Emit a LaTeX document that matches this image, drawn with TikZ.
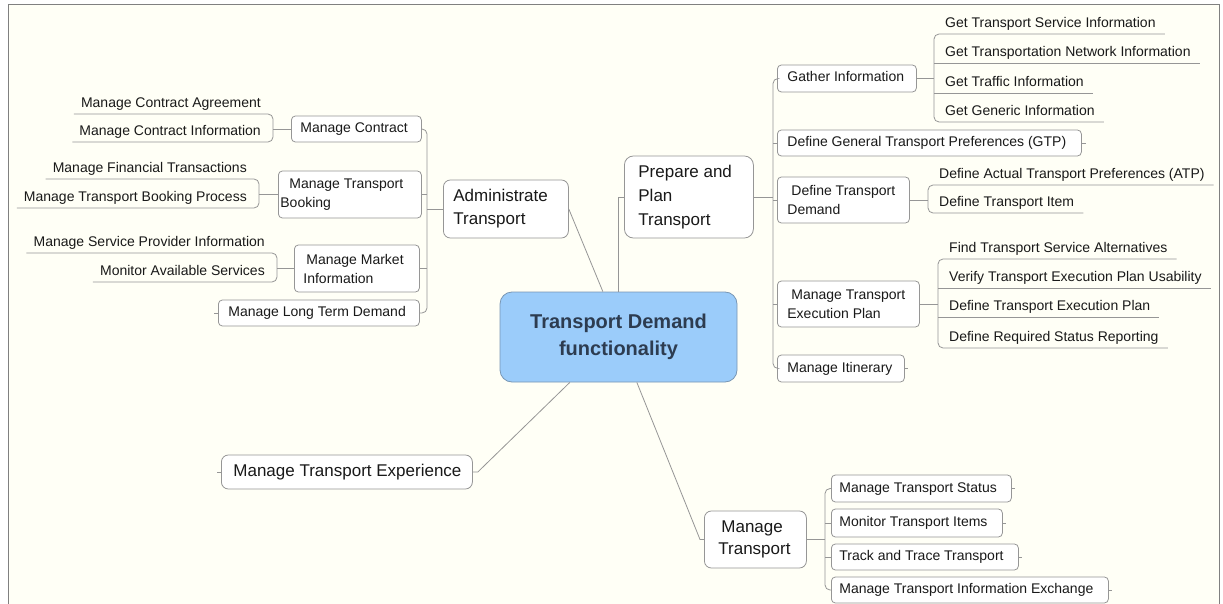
\documentclass[tikz,border=0pt]{standalone}
\usepackage{fontspec}
\setmainfont{Liberation Sans}
\usetikzlibrary{calc}
\definecolor{bg}{RGB}{255,255,246}
\definecolor{frm}{RGB}{128,128,128}
\definecolor{bdr}{RGB}{150,150,150}
\definecolor{lnc}{RGB}{150,150,150}
\definecolor{txt}{RGB}{25,25,25}
\definecolor{cfill}{RGB}{155,204,250}
\definecolor{cbdr}{RGB}{120,150,180}
\definecolor{ctxt}{RGB}{45,60,80}
\newcommand{\fsz}[2]{\fontsize{#1}{#2}\selectfont}
\begin{document}
\begin{tikzpicture}[x=1pt,y=-1pt,
  ln/.style={draw=lnc, line width=0.8pt},
  br/.style={ln, rounded corners=5pt},
  bx/.style={draw=bdr, line width=0.8pt, fill=white, rounded corners=4pt, inner ysep=0pt, anchor=west, text=txt, font=\fsz{14}{19}},
  big/.style={bx, rounded corners=7pt, font=\fsz{17}{23}},
  one/.style={text height=10pt, text depth=3pt},
  lf/.style={inner ysep=0pt, minimum height=19pt, text height=10pt, text depth=3pt, text=txt, font=\fsz{14}{19}},
  lfR/.style={lf, inner xsep=9pt, anchor=south west, execute at begin node={\hspace*{2pt}}},
  lfL/.style={lf, inner xsep=7pt, anchor=south east, execute at end node={\hspace*{5pt}}}
]
\useasboundingbox (0,0) rectangle (1223,604);
\fill[white] (0,0) rectangle (1223,604);
\fill[bg] (8,5) rectangle (1219,604);
\draw[frm, line width=1pt] (8,604) -- (8,5) -- (1219,5) -- (1219,604);

% centre
\node[draw=cbdr, line width=0.8pt, fill=cfill, rounded corners=12pt, minimum width=237pt, minimum height=90pt, align=center, font=\bfseries\fsz{20}{27}, text=ctxt] (ctr) at (618.5,337) {Transport Demand\\functionality};

% first level
\node[big, inner xsep=10pt, minimum height=58pt, align=left] (adm) at (443,209) {\makebox[105pt][l]{Administrate}\\Transport};
\node[big, rounded corners=9pt, inner xsep=14pt, minimum height=82pt, font=\fsz{17}{24}, align=left] (prep) at (624,197) {\makebox[101pt][l]{Prepare and}\\Plan\\Transport};
\node[big, one, text height=12pt, text depth=4pt, inner xsep=12pt, minimum height=34pt] (mte) at (221,472) {\makebox[227pt][l]{Manage Transport Experience}};
\node[big, inner xsep=14pt, minimum height=57pt, font=\fsz{17}{22}, align=left] (mt) at (704,539.5) {\makebox[74pt][l]{\hspace*{3pt}Manage}\\Transport};

% administrate children
\node[bx, one, inner xsep=9pt, minimum height=26pt] (mc) at (291,129) {\makebox[112pt][l]{Manage Contract}};
\node[bx, inner xsep=2pt, minimum height=47pt, align=left] (mtb) at (278,194.5) {\makebox[139pt][l]{\hspace*{9pt}Manage Transport}\\Booking};
\node[bx, inner xsep=9pt, minimum height=47pt, align=left] (mmi) at (294,268.5) {\makebox[107pt][l]{\hspace*{3pt}Manage Market}\\Information};
\node[bx, one, inner xsep=10pt, minimum height=26pt] (mltd) at (218,313) {\makebox[181pt][l]{Manage Long Term Demand}};

% prepare children
\node[bx, one, inner xsep=10pt, minimum height=27pt] (gi) at (777,78.5) {\makebox[119pt][l]{Gather Information}};
\node[bx, one, inner xsep=10pt, minimum height=26pt] (gtp) at (777,143) {\makebox[284pt][l]{Define General Transport Preferences (GTP)}};
\node[bx, inner xsep=10pt, minimum height=46pt, align=left] (dtd) at (777,200) {\makebox[112pt][l]{\hspace*{4pt}Define Transport}\\Demand};
\node[bx, inner xsep=10pt, minimum height=46pt, align=left] (mtep) at (777,304) {\makebox[122pt][l]{\hspace*{4pt}Manage Transport}\\Execution Plan};
\node[bx, one, inner xsep=10pt, minimum height=27pt] (mi) at (777,368.5) {\makebox[107pt][l]{Manage Itinerary}};

% manage transport children
\node[bx, one, inner xsep=8pt, minimum height=27pt] (mts) at (831,488.5) {\makebox[164pt][l]{Manage Transport Status}};
\node[bx, one, inner xsep=8pt, minimum height=28pt] (mti) at (831,523) {\makebox[155pt][l]{Monitor Transport Items}};
\node[bx, one, inner xsep=8pt, minimum height=26pt] (ttt) at (831,557) {\makebox[171pt][l]{Track and Trace Transport}};
\node[bx, one, inner xsep=8pt, minimum height=26pt] (mtie) at (831,590) {\makebox[261pt][l]{Manage Transport Information Exchange}};

% leaves, left
\node[lfL] (mca) at (273,114) {Manage Contract Agreement};
\node[lfL] (mci) at (273,142) {Manage Contract Information};
\node[lfL] (mft) at (259,179) {Manage Financial Transactions};
\node[lfL] (mtbp) at (259,208) {Manage Transport Booking Process};
\node[lfL] (mspi) at (277,253) {Manage Service Provider Information};
\node[lfL] (mas) at (277,282) {Monitor Available Services};

% leaves, right
\node[lfR] (gtsi) at (934,34) {Get Transport Service Information};
\node[lfR] (gtni) at (934,63) {Get Transportation Network Information};
\node[lfR] (gti) at (934,93) {Get Traffic Information};
\node[lfR] (ggi) at (934,122) {Get Generic Information};
\node[lfR] (datp) at (928,185) {Define Actual Transport Preferences (ATP)};
\node[lfR] (dti) at (928,213) {Define Transport Item};
\node[lfR] (ftsa) at (938,259) {Find Transport Service Alternatives};
\node[lfR] (vtep) at (938,288) {Verify Transport Execution Plan Usability};
\node[lfR] (dtep) at (938,317) {Define Transport Execution Plan};
\node[lfR] (drsr) at (938,348) {Define Required Status Reporting};

% centre connectors
\draw[ln] (ctr.north) |- (prep.west);
\draw[ln] (adm.east) -- (ctr.109);
\draw[ln] (ctr.223.5) -- ([xshift=5pt]mte.east) -- (mte.east);
\draw[ln] (ctr.292.3) -- ([xshift=-4pt]mt.west) -- (mt.west);

% administrate trunk
\coordinate (atr) at (427,209);
\draw[br] (mc.east) -- (mc.east -| atr) -- (mltd.east -| atr) -- (mltd.east);
\draw[ln] (mtb.east) -- (mtb.east -| atr);
\draw[ln] (mmi.east) -- (mmi.east -| atr);
\draw[ln] (atr) -- (adm.west);

% prepare trunk
\coordinate (ptr) at (773,197);
\draw[br] (gi.west) -- (gi.west -| ptr) -- (mi.west -| ptr) -- (mi.west);
\draw[ln] (gtp.west) -- (gtp.west -| ptr);
\draw[ln] (dtd.west) -- (dtd.west -| ptr);
\draw[ln] (mtep.west) -- (mtep.west -| ptr);
\draw[ln] (prep.east) -- (ptr);

% manage transport trunk
\coordinate (mtr) at (825,539.5);
\draw[br] (mts.west) -- (mts.west -| mtr) -- (mtie.west -| mtr) -- (mtie.west);
\draw[ln] (mti.west) -- (mti.west -| mtr);
\draw[ln] (ttt.west) -- (ttt.west -| mtr);
\draw[ln] (mt.east) -- (mtr);

% leaf brackets, left
\draw[br] (mca.south west) -- (mca.south east) -- (mci.south east) -- (mci.south west);
\draw[ln] (mc.west) -- (mc.west -| mca.south east);
\draw[br] (mft.south west) -- (mft.south east) -- (mtbp.south east) -- (mtbp.south west);
\draw[ln] (mtb.west) -- (mtb.west -| mft.south east);
\draw[br] (mspi.south west) -- (mspi.south east) -- (mas.south east) -- (mas.south west);
\draw[ln] (mmi.west) -- (mmi.west -| mspi.south east);

% leaf brackets, right
\draw[br] (gtsi.south east) -- (gtsi.south west) -- (ggi.south west) -- (ggi.south east);
\draw[ln] (gtni.south west) -- (gtni.south east);
\draw[ln] (gti.south west) -- (gti.south east);
\draw[ln] (gi.east) -- (gi.east -| gtsi.south west);
\draw[br] (datp.south east) -- (datp.south west) -- (dti.south west) -- (dti.south east);
\draw[ln] (dtd.east) -- (dtd.east -| datp.south west);
\draw[br] (ftsa.south east) -- (ftsa.south west) -- (drsr.south west) -- (drsr.south east);
\draw[ln] (vtep.south west) -- (vtep.south east);
\draw[ln] (dtep.south west) -- (dtep.south east);
\draw[ln] (mtep.east) -- (mtep.east -| ftsa.south west);

% small end stubs
\draw[ln] (gtp.east) -- ++(4,0);
\draw[ln] (mi.east) -- ++(3,0);
\draw[ln] (mltd.west) -- ++(-4,0);
\draw[ln] (mte.west) -- ++(-4,0);
\draw[ln] (mts.east) -- ++(3,0);
\draw[ln] (mti.east) -- ++(3,0);
\draw[ln] (ttt.east) -- ++(3,0);
\draw[ln] (mtie.east) -- ++(3,0);
\end{tikzpicture}
\end{document}
